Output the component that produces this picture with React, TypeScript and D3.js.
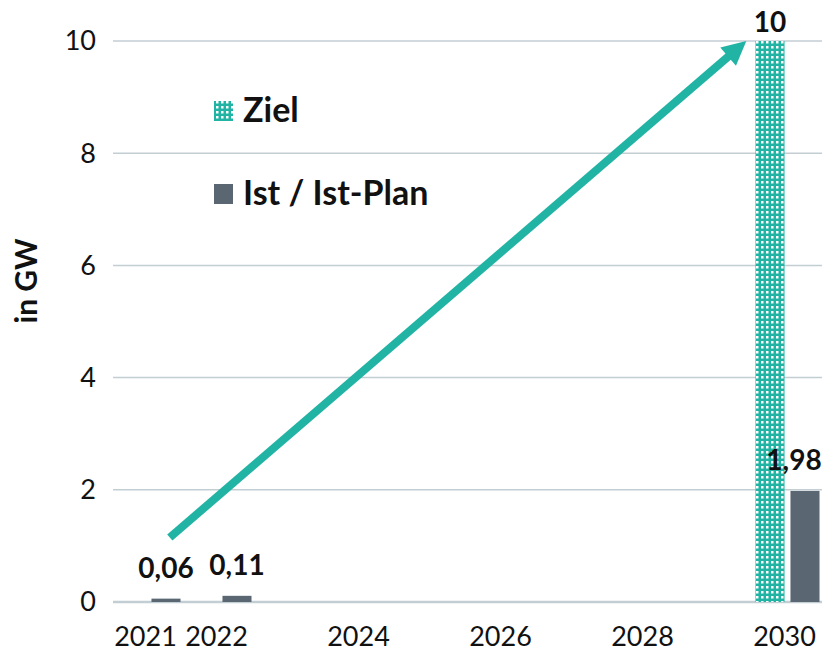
import React from "react";
import * as d3 from "d3";

const years = ["2021", "2022", "2023", "2024", "2025", "2026", "2027", "2028", "2029", "2030"];
const tickYears = ["2021", "2022", "2024", "2026", "2028", "2030"];
const zielValues: (number | null)[] = [null, null, null, null, null, null, null, null, null, 10];
const istValues: (number | null)[] = [0.06, 0.11, null, null, null, null, null, null, null, 1.98];
const yTicks = [0, 2, 4, 6, 8, 10];
const seriesNames = ["Ziel", "Ist / Ist-Plan"];
const arrowStart = { year: 2021.3, value: 1.15 };
const arrowEnd = { year: 2029.42, value: 10 };

const W = 823;
const H = 655;
const TEAL = "#21B3A3";
const SLATE = "#5A6772";
const GRID = "#C3CDD4";
const FONT = "Lato, 'Open Sans', sans-serif";

export default function App() {
  const left = 113;
  const right = 823;
  const x = d3.scaleBand<string>().domain(years).range([left, right]);
  const sub = d3.scaleBand<string>().domain(["Ziel", "Ist"]).range([0, x.bandwidth()]).paddingInner(0.17).paddingOuter(0.1);
  const y = d3.scaleLinear().domain([0, 10]).range([602, 41]);
  const yearX = (yr: number) => (x("2021") as number) + x.bandwidth() / 2 + (yr - 2021) * x.bandwidth();
  const fmt = (v: number) => String(v).replace(".", ",");

  const x1 = yearX(arrowStart.year), y1 = y(arrowStart.value);
  const x2 = yearX(arrowEnd.year), y2 = y(arrowEnd.value);
  const ang = Math.atan2(y2 - y1, x2 - x1);
  const headLen = 24, headHalf = 12;
  const bx = x2 - headLen * Math.cos(ang), by = y2 - headLen * Math.sin(ang);
  const px = -Math.sin(ang), py = Math.cos(ang);
  const head = `M${x2},${y2}L${bx + px * headHalf},${by + py * headHalf}L${bx - px * headHalf},${by - py * headHalf}Z`;

  return (
    <svg width={W} height={H} style={{ position: "absolute", left: 0, top: 0, background: "#fff" }}>
      <defs>
        <pattern id="ziel" width="5" height="5" patternUnits="userSpaceOnUse">
          <rect width="5" height="5" fill={TEAL} />
          <rect x="1" y="1" width="2.5" height="2.5" fill="#fff" />
        </pattern>
      </defs>
      {yTicks.map((t) => (
        <g key={t}>
          <line x1={left} x2={right - 1} y1={y(t)} y2={y(t)} stroke={GRID} strokeWidth={t === 0 ? 2.5 : 1.5} />
          <text x={96} y={y(t)} dy="0.35em" textAnchor="end" fontFamily={FONT} fontSize={27} fill="#111">{t}</text>
        </g>
      ))}
      {tickYears.map((yr) => (
        <text key={yr} x={(x(yr) as number) + x.bandwidth() / 2 - 3} y={646} textAnchor="middle" fontFamily={FONT} fontSize={27} fill="#111">{yr}</text>
      ))}
      <text transform="translate(37,281) rotate(-90)" textAnchor="middle" fontFamily={FONT} fontWeight="bold" fontSize={30} fill="#111">in GW</text>
      {years.map((yr, i) => {
        const z = zielValues[i];
        const s = istValues[i];
        const bx0 = x(yr) as number;
        return (
          <g key={yr}>
            {z != null && (
              <g>
                <rect x={bx0 + (sub("Ziel") as number)} y={y(z)} width={sub.bandwidth()} height={y(0) - y(z)} fill="url(#ziel)" />
                <text x={bx0 + (sub("Ziel") as number) + sub.bandwidth() / 2} y={y(z) - 9} textAnchor="middle" fontFamily={FONT} fontWeight="bold" fontSize={28} fill="#111">{fmt(z)}</text>
              </g>
            )}
            {s != null && (
              <g>
                <rect x={bx0 + (sub("Ist") as number)} y={y(s)} width={sub.bandwidth()} height={y(0) - y(s)} fill={SLATE} />
                <text x={Math.min(bx0 + (sub("Ist") as number) + sub.bandwidth() / 2, right - 29)} y={y(s) - 21} textAnchor="middle" fontFamily={FONT} fontWeight="bold" fontSize={28} fill="#111">{fmt(s)}</text>
              </g>
            )}
          </g>
        );
      })}
      <line x1={x1} y1={y1} x2={bx + 2 * Math.cos(ang)} y2={by + 2 * Math.sin(ang)} stroke={TEAL} strokeWidth={8} />
      <path d={head} fill={TEAL} />
      <g>
        <rect x={214} y={101} width={19} height={20} fill="url(#ziel)" />
        <text x={243} y={122} fontFamily={FONT} fontWeight="bold" fontSize={34} fill="#111">{seriesNames[0]}</text>
        <rect x={214} y={184} width={19} height={20} fill={SLATE} />
        <text x={243} y={205} fontFamily={FONT} fontWeight="bold" fontSize={34} fill="#111">{seriesNames[1]}</text>
      </g>
    </svg>
  );
}
